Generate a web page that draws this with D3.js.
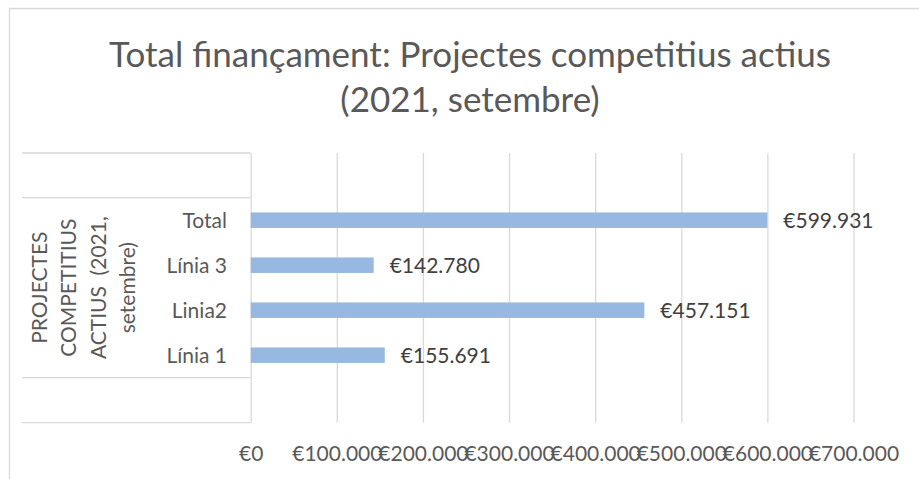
<html>
<head>
<script src="https://cdn.jsdelivr.net/npm/d3@7"></script>
<style>
body { margin: 0; background: #fff; }
text { font-family: Lato, "Open Sans", sans-serif; }
</style>
</head>
<body>
<svg id="chart" width="919" height="479"></svg>
<script>
// data, bottom to top like the reference
var categories = ["Línia 1", "Linia2", "Línia 3", "Total"];
var values = [155691, 457151, 142780, 599931];
var xTicks = [0, 100000, 200000, 300000, 400000, 500000, 600000, 700000];
var groupLabel = ["PROJECTES", "COMPETITIUS", "ACTIUS  (2021,", "setembre)"];
var titleLines = ["Total finançament: Projectes competitius actius", "(2021, setembre)"];

var svg = d3.select("#chart");
var grid = "#d9d9d9";

var euro = function(v) { return "€" + d3.format(",")(v).replace(/,/g, "."); };

// outer frame (cut off at the right and bottom)
svg.append("path")
    .attr("d", "M9.5,479 V8.5 H919")
    .attr("fill", "none")
    .attr("stroke", grid)
    .attr("stroke-width", 1.3);

// title
svg.append("g").selectAll("text")
    .data(titleLines)
  .enter().append("text")
    .attr("x", 470)
    .attr("y", function(d, i) { return 67 + i * 45; })
    .attr("text-anchor", "middle")
    .attr("fill", "#595959")
    .style("font-size", "35px")
    .text(function(d) { return d; });

var plotTop = 153, plotBottom = 422.7;

var x = d3.scaleLinear()
    .domain([0, 700000])
    .range([250.7, 853.5]);

var y = d3.scaleBand()
    .domain(categories.slice().reverse())
    .range([197.7, 377.7])
    .paddingInner(0.656)
    .paddingOuter(0.328);

// vertical gridlines
var gGrid = svg.append("g")
    .attr("transform", "translate(0," + plotBottom + ")")
    .call(d3.axisBottom(x).tickValues(xTicks).tickSize(-(plotBottom - plotTop)).tickFormat(""));
gGrid.select(".domain").remove();
gGrid.selectAll("line").attr("stroke", grid).attr("stroke-width", 1.3);

// category table lines
var tableLines = [plotTop, y.range()[0], y.range()[1], plotBottom];
svg.append("g").selectAll("line")
    .data(tableLines)
  .enter().append("line")
    .attr("x1", 22)
    .attr("x2", x(0))
    .attr("y1", function(d) { return d; })
    .attr("y2", function(d) { return d; })
    .attr("stroke", grid)
    .attr("stroke-width", 1.3);

// x tick labels
var gX = svg.append("g")
    .attr("transform", "translate(0,461)")
    .call(d3.axisBottom(x).tickValues(xTicks).tickSize(0).tickFormat(euro));
gX.select(".domain").remove();
gX.selectAll("text")
    .attr("y", 0)
    .attr("dy", 0)
    .attr("fill", "#595959")
    .style("font-family", "Lato, sans-serif")
    .style("font-size", "21px");

// category labels
var gY = svg.append("g")
    .attr("transform", "translate(227,0)")
    .call(d3.axisLeft(y).tickSize(0).tickPadding(0));
gY.select(".domain").remove();
gY.selectAll("text")
    .attr("dy", 7.5)
    .attr("fill", "#595959")
    .style("font-family", "Lato, sans-serif")
    .style("font-size", "21px");

// group label, rotated
var cy = (y.range()[0] + y.range()[1]) / 2;
svg.append("g")
    .attr("transform", "translate(0," + cy + ") rotate(-90)")
  .selectAll("text")
    .data(groupLabel)
  .enter().append("text")
    .attr("x", 0)
    .attr("y", function(d, i) { return 46.5 + i * 29.5; })
    .attr("text-anchor", "middle")
    .attr("fill", "#595959")
    .style("font-size", "21px")
    .style("white-space", "pre")
    .text(function(d) { return d; });

// bars
svg.append("g").selectAll("rect")
    .data(values)
  .enter().append("rect")
    .attr("x", x(0))
    .attr("y", function(d, i) { return y(categories[i]); })
    .attr("width", function(d) { return x(d) - x(0); })
    .attr("height", y.bandwidth())
    .attr("fill", "#97b8e0");

// value labels
svg.append("g").selectAll("text")
    .data(values)
  .enter().append("text")
    .attr("x", function(d) { return x(d) + 16; })
    .attr("y", function(d, i) { return y(categories[i]) + y.bandwidth() / 2 + 7.5; })
    .attr("fill", "#404040")
    .style("font-size", "21px")
    .text(euro);
</script>
</body>
</html>
